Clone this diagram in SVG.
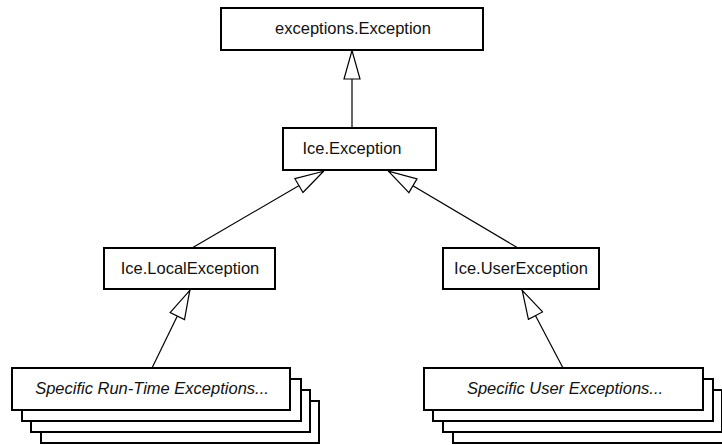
<svg xmlns="http://www.w3.org/2000/svg" width="722" height="445" viewBox="0 0 722 445">
<style>
.box{fill:#fff;stroke:#000;stroke-width:2}
.lbl{font-family:"Liberation Sans",Arial,Helvetica,sans-serif;font-size:16.5px;fill:#111;text-anchor:middle}
.it{font-style:italic}
.conn{stroke:#000;stroke-width:1.2;fill:none;marker-end:url(#tri)}
</style>
<defs>
<marker id="tri" viewBox="0 0 30 18" refX="30" refY="9" markerWidth="30" markerHeight="18" markerUnits="userSpaceOnUse" orient="auto">
<path d="M1,1 L29.5,9 L1,17 Z" fill="#fff" stroke="#000" stroke-width="1.2"/>
</marker>
</defs>
<rect width="722" height="445" fill="#fff"/>
<g id="connectors">
<line class="conn" x1="352" y1="128" x2="352" y2="50"/>
<line class="conn" x1="192" y1="248" x2="324" y2="171"/>
<line class="conn" x1="518" y1="248" x2="388" y2="171"/>
<line class="conn" x1="152" y1="368" x2="190" y2="290"/>
<line class="conn" x1="563" y1="368" x2="522" y2="290"/>
</g>
<g id="exceptions-Exception">
<rect class="box" x="221" y="8" width="262" height="42"/>
<text class="lbl" x="353" y="34">exceptions.Exception</text>
</g>
<g id="Ice-Exception">
<rect class="box" x="283" y="128" width="153" height="42"/>
<text class="lbl" x="352" y="154">Ice.Exception</text>
</g>
<g id="Ice-LocalException">
<rect class="box" x="104" y="248" width="171" height="41"/>
<text class="lbl" x="190" y="274">Ice.LocalException</text>
</g>
<g id="Ice-UserException">
<rect class="box" x="443" y="248" width="156" height="41"/>
<text class="lbl" x="521" y="274">Ice.UserException</text>
</g>
<g id="RunTimeExceptions">
<rect class="box" x="41" y="401" width="278" height="42"/>
<rect class="box" x="31" y="390" width="279" height="42"/>
<rect class="box" x="22" y="379" width="279" height="42"/>
<rect class="box" x="12" y="368" width="278" height="42"/>
<text class="lbl it" x="152" y="394">Specific Run-Time Exceptions...</text>
</g>
<g id="UserExceptions">
<rect class="box" x="453" y="401" width="279" height="42"/>
<rect class="box" x="443" y="390" width="279" height="42"/>
<rect class="box" x="433" y="379" width="280" height="42"/>
<rect class="box" x="424" y="368" width="279" height="42"/>
<text class="lbl it" x="565" y="394">Specific User Exceptions...</text>
</g>
</svg>
